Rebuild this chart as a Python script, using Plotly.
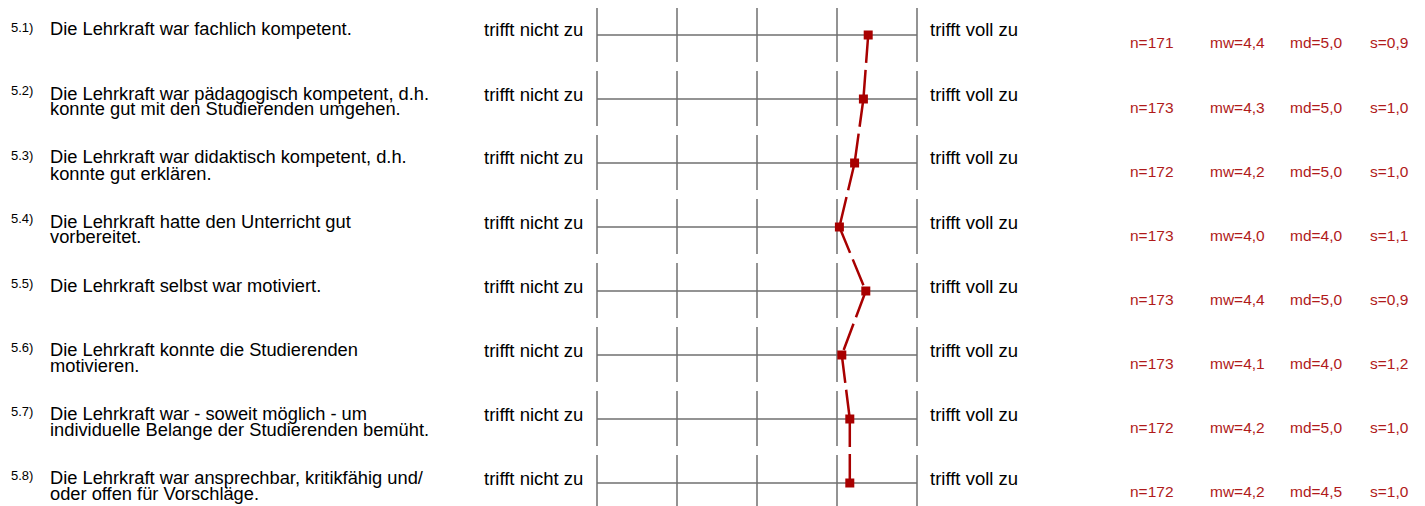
import plotly.graph_objects as go

# item texts (one entry per line)
item_nums = ["5.1)", "5.2)", "5.3)", "5.4)", "5.5)", "5.6)", "5.7)", "5.8)"]
item_texts = [
    ["Die Lehrkraft war fachlich kompetent."],
    ["Die Lehrkraft war pädagogisch kompetent, d.h.", "konnte gut mit den Studierenden umgehen."],
    ["Die Lehrkraft war didaktisch kompetent, d.h.", "konnte gut erklären."],
    ["Die Lehrkraft hatte den Unterricht gut", "vorbereitet."],
    ["Die Lehrkraft selbst war motiviert."],
    ["Die Lehrkraft konnte die Studierenden", "motivieren."],
    ["Die Lehrkraft war - soweit möglich - um", "individuelle Belange der Studierenden bemüht."],
    ["Die Lehrkraft war ansprechbar, kritikfähig und/", "oder offen für Vorschläge."],
]
left_label = "trifft nicht zu"
right_label = "trifft voll zu"

# means
means = [4.39, 4.33, 4.22, 4.03, 4.36, 4.06, 4.16, 4.16]
n_vals = [171, 173, 172, 173, 173, 173, 172, 172]
mw_vals = ["4,4", "4,3", "4,2", "4,0", "4,4", "4,1", "4,2", "4,2"]
md_vals = ["5,0", "5,0", "5,0", "4,0", "5,0", "4,0", "5,0", "4,5"]
s_vals = ["0,9", "1,0", "1,0", "1,1", "0,9", "1,2", "1,0", "1,0"]
scale = [1, 2, 3, 4, 5]

OFF = 8                  # page body margin around the plot div
W, H = 1425 - OFF, 506 - OFF
X0, STEP = 597 - OFF, 80  # pixel of scale value 1, pixels per scale step
Y0, ROW = 35 - OFF, 64    # pixel of first row line, pixels per row
RED = "#a80000"
TXT_RED = "#b01a1a"
GRAY = "#6f6f6f"
FONT = "Liberation Sans, Arial, sans-serif"

rows = list(range(len(means)))


def px(p):
    return (p - OFF) / W


def py(p):
    return 1 - (p - OFF) / H


fig = go.Figure()

# grid per row
for i in rows:
    fig.add_shape(type="line", xref="x", yref="y", x0=scale[0], x1=scale[-1], y0=i, y1=i,
                  layer="below", line=dict(color=GRAY, width=1.5))
    for s in scale:
        fig.add_shape(type="line", xref="x", yref="y", x0=s, x1=s, layer="below",
                      y0=i - 28 / ROW, y1=i + 27 / ROW, line=dict(color=GRAY, width=1.5))

# dashed profile line, one segment per pair of rows
for i in rows[:-1]:
    fig.add_trace(go.Scatter(x=means[i:i + 2], y=rows[i:i + 2], mode="lines",
                             line=dict(color=RED, width=2.5, dash="28px,7px"),
                             hoverinfo="skip", showlegend=False))
fig.add_trace(go.Scatter(x=means, y=rows, mode="markers",
                         marker=dict(symbol="square", size=9, color=RED),
                         showlegend=False))

ann = []
for i in rows:
    yc = 35 + 64 * i
    ann.append(dict(x=px(9), y=py(yc - 8), text=item_nums[i], font=dict(size=13, color="black")))
    for k, line in enumerate(item_texts[i]):
        ann.append(dict(x=px(48), y=py(yc - 6 + 16 * k), text=line, font=dict(size=18.3, color="black")))
    ann.append(dict(x=px(585), y=py(yc - 5), text=left_label, xanchor="right",
                    font=dict(size=18.5, color="black")))
    ann.append(dict(x=px(928), y=py(yc - 5), text=right_label, font=dict(size=18.5, color="black")))
    stats = ["n=%d" % n_vals[i], "mw=" + mw_vals[i], "md=" + md_vals[i], "s=" + s_vals[i]]
    for k, t in enumerate(stats):
        ann.append(dict(x=px(1128 + 80 * k), y=py(yc + 8), text=t, font=dict(size=15.5, color=TXT_RED)))

for a in ann:
    a.update(xref="paper", yref="paper", showarrow=False, yanchor="middle")
    a.setdefault("xanchor", "left")
    a["font"]["family"] = FONT

fig.update_layout(
    width=W, height=H,
    margin=dict(l=0, r=0, t=0, b=0),
    paper_bgcolor="white", plot_bgcolor="white",
    annotations=ann,
    xaxis=dict(range=[1 - X0 / STEP, 1 + (W - X0) / STEP], visible=False, fixedrange=True),
    yaxis=dict(range=[(H - Y0) / ROW, -Y0 / ROW], visible=False, fixedrange=True),
    font=dict(family=FONT),
)

fig.write_html("out.html")
